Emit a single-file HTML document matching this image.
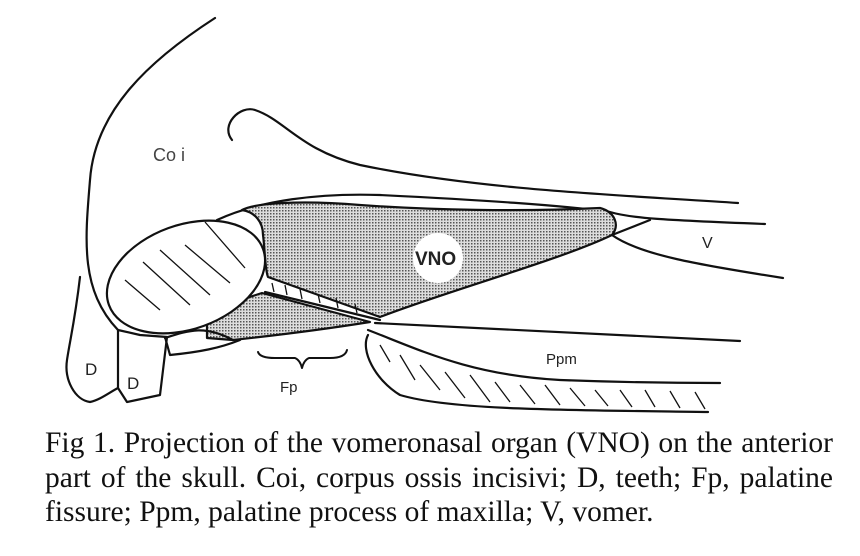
<!DOCTYPE html><html><head><style>
body{margin:0;background:#fff;width:860px;height:556px;overflow:hidden}
.cap{position:absolute;left:45px;width:788px;font-family:"Liberation Serif",serif;font-size:29.5px;line-height:32px;color:#111;white-space:nowrap}
.j{text-align:justify;text-align-last:justify}
</style></head><body>
<svg width="860" height="430" style="position:absolute;left:0;top:0" viewBox="0 0 860 430">
<defs><pattern id="d" width="3" height="3" patternUnits="userSpaceOnUse"><rect width="3" height="3" fill="#ddd"/><rect width="1.5" height="1.5" fill="#555"/></pattern></defs>
<g fill="none" stroke="#111" stroke-width="2.2" stroke-linejoin="round" stroke-linecap="round">
<path d="M215,18 C150,60 95,110 90,180 C85,240 80,290 118,330"/>
<path d="M80,277 C75,320 70,340 67,360 C64,380 75,400 90,402 C100,400 110,392 118,388"/>
<path d="M232,140 C220,125 240,105 255,110 C285,120 300,150 360,165 C480,190 620,195 738,203"/>
<path d="M217,220 C260,200 320,193 380,195 C480,200 560,205 610,212 C630,218 660,220 765,224"/>
<path d="M242,210 C255,212 263,222 263,235 C265,250 265,270 268,277 L380,317 C450,290 560,260 612,235 C620,225 615,212 600,208 C520,212 430,210 360,205 C300,200 255,203 242,210 Z" fill="url(#d)"/>
<path d="M612,235 L650,220"/>
<path d="M612,235 C640,255 700,265 783,278"/>
<path d="M265,292 L380,320"/>
<path d="M207,323 C210,310 240,300 262,293 L370,322 C320,330 270,336 233,340 L207,338 Z" fill="url(#d)"/>
<path d="M165,338 C190,330 205,325 233,340"/>
<path d="M165,337 L170,355 C200,352 220,348 240,340"/>
<path d="M375,323 L740,341"/>
<path d="M368,330 C420,350 470,375 560,380 C640,383 690,383 720,383"/>
<path d="M368,335 C360,350 375,380 400,395 C450,410 560,410 708,412"/>
<path d="M118,330 L118,388 L127,402 L160,395 L167,337 L140,335 Z"/>
<ellipse cx="186" cy="277" rx="82" ry="52" transform="rotate(-20 186 277)" fill="#fff"/>
<path d="M258,352 Q260,358 275,358 L295,358 Q300,360 302,368 Q304,360 309,358 L330,358 Q345,358 347,350" stroke-width="2"/>
</g>
<g stroke="#111" stroke-width="1.3">
<line x1="125" y1="280" x2="160" y2="310"/><line x1="143" y1="262" x2="190" y2="305"/><line x1="160" y1="250" x2="210" y2="295"/><line x1="185" y1="245" x2="230" y2="283"/><line x1="205" y1="222" x2="245" y2="268"/>
<line x1="380" y1="345" x2="390" y2="362"/><line x1="400" y1="355" x2="415" y2="380"/><line x1="420" y1="365" x2="440" y2="390"/><line x1="445" y1="372" x2="465" y2="398"/><line x1="470" y1="375" x2="490" y2="402"/><line x1="495" y1="382" x2="510" y2="402"/><line x1="520" y1="385" x2="535" y2="404"/><line x1="545" y1="385" x2="560" y2="405"/><line x1="570" y1="388" x2="585" y2="406"/><line x1="595" y1="390" x2="608" y2="406"/><line x1="620" y1="390" x2="632" y2="407"/><line x1="645" y1="390" x2="655" y2="407"/><line x1="670" y1="391" x2="680" y2="408"/><line x1="695" y1="392" x2="705" y2="409"/>
<line x1="272" y1="283" x2="274" y2="292"/><line x1="285" y1="285" x2="287" y2="295"/><line x1="300" y1="289" x2="302" y2="299"/><line x1="318" y1="294" x2="320" y2="303"/><line x1="336" y1="298" x2="338" y2="308"/><line x1="355" y1="304" x2="357" y2="313"/>
</g>
<circle cx="438" cy="258" r="25" fill="#fff"/>
<g font-family="Liberation Sans,sans-serif" fill="#222">
<text x="415" y="265" font-size="19" font-weight="bold">VNO</text>
<text x="153" y="161" font-size="18" fill="#444">Co i</text>
<text x="85" y="375" font-size="17">D</text>
<text x="127" y="389" font-size="17">D</text>
<text x="280" y="392" font-size="15">Fp</text>
<text x="546" y="364" font-size="15">Ppm</text>
<text x="702" y="248" font-size="16">V</text>
</g>
</svg>
<div class="cap j" style="top:427px">Fig 1. Projection of the vomeronasal organ (VNO) on the anterior</div>
<div class="cap j" style="top:462px">part of the skull. Coi, corpus ossis incisivi; D, teeth; Fp, palatine</div>
<div class="cap" style="top:496px">fissure; Ppm, palatine process of maxilla; V, vomer.</div>
</body></html>
